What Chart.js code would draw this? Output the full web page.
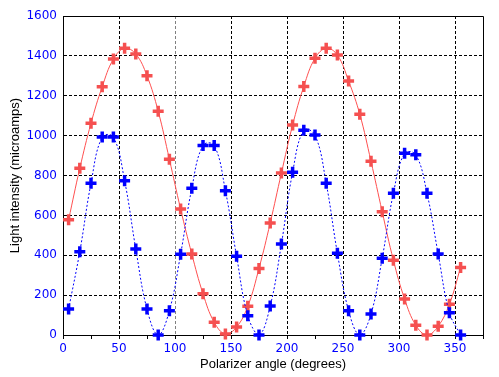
<!DOCTYPE html>
<html>
<head>
<meta charset="utf-8">
<script src="https://cdn.jsdelivr.net/npm/chart.js@4/dist/chart.umd.min.js"></script>
<style>
html,body{margin:0;padding:0;background:#fff;}
#wrap{width:499px;height:377px;}
</style>
</head>
<body>
<div id="wrap"><canvas id="c" width="499" height="377"></canvas></div>
<script>
const angles = [5,15,25,35,45,55,65,75,85,95,105,115,125,135,145,155,165,175,185,195,205,215,225,235,245,255,265,275,285,295,305,315,325,335,345,355];
const redValues = [578,836,1062,1245,1384,1438,1409,1300,1122,881,632,406,207,64,5,40,144,334,562,812,1053,1247,1388,1438,1404,1274,1107,871,618,375,181,49,0,44,154,339];
const blueValues = [130,418,761,993,993,774,431,130,0,122,405,736,951,951,724,395,97,0,145,456,816,1027,1003,761,410,122,0,105,385,711,911,904,711,406,112,0];
const xTickLabels = [0,50,100,150,200,250,300,350];
const yTickLabels = [0,200,400,600,800,1000,1200,1400,1600];
const xTitle = 'Polarizer angle (degrees)';
const yTitle = 'Light intensity (microamps)';

const toPts = (vals) => angles.map((a, i) => ({x: a, y: vals[i]}));

const frame = {
  id: 'frame',
  afterDraw(chart) {
    const a = chart.chartArea, ctx = chart.ctx;
    ctx.save();
    ctx.strokeStyle = '#000';
    ctx.lineWidth = 1;
    ctx.setLineDash([]);
    ctx.beginPath();
    ctx.moveTo(Math.round(a.left) + 0.5, Math.round(a.top) + 0.5);
    ctx.lineTo(Math.round(a.right) + 0.5, Math.round(a.top) + 0.5);
    ctx.lineTo(Math.round(a.right) + 0.5, Math.round(a.bottom) + 0.5);
    ctx.stroke();
    ctx.restore();
  }
};

new Chart(document.getElementById('c'), {
  type: 'line',
  data: {
    datasets: [
      {
        label: 'blue',
        data: toPts(blueValues),
        borderColor: '#0000ff',
        backgroundColor: '#0000ff',
        borderWidth: 1,
        borderDash: [2, 2],
        tension: 0.4,
        pointStyle: 'cross',
        pointRadius: 5.5,
        pointBorderWidth: 3.5,
        pointBorderColor: '#0000ff',
        clip: false,
        order: 0
      },
      {
        label: 'red',
        data: toPts(redValues),
        borderColor: '#ff5050',
        backgroundColor: '#ff5050',
        borderWidth: 1,
        tension: 0.4,
        pointStyle: 'cross',
        pointRadius: 5.5,
        pointBorderWidth: 3.5,
        pointBorderColor: '#f55050',
        clip: false,
        order: 1
      }
    ]
  },
  options: {
    responsive: false,
    animation: false,
    events: [],
    layout: {padding: {top: 16, right: 16, left: 0, bottom: 0}},
    plugins: {legend: {display: false}, tooltip: {enabled: false}},
    scales: {
      x: {
        type: 'linear',
        min: 0,
        max: 375,
        afterBuildTicks: (s) => {
          const t = [];
          for (let v = 0; v <= 375; v += 25) t.push({value: v});
          s.ticks = t;
        },
        afterFit: (s) => { s.height = 42; },
        ticks: {
          color: '#0000ff',
          font: {family: 'DejaVu Sans', size: 12},
          padding: 3,
          maxRotation: 0,
          autoSkip: false,
          callback: (v) => xTickLabels.includes(v) ? String(v) : ''
        },
        grid: {
          color: (ctx) => {
            const v = ctx.tick ? ctx.tick.value : -1;
            if (v === 100) return '#808080';
            return (xTickLabels.includes(v) && v !== 0) ? '#000' : 'rgba(0,0,0,0)';
          },
          tickColor: '#000',
          tickLength: 4,
          tickBorderDash: [],
          lineWidth: 1
        },
        border: {display: true, color: '#000', width: 1, dash: [3, 2]},
        title: {
          display: true,
          text: xTitle,
          color: '#000',
          font: {family: 'Liberation Sans', size: 13},
          padding: {top: 0, bottom: 5}
        }
      },
      y: {
        type: 'linear',
        min: 0,
        max: 1600,
        afterBuildTicks: (s) => { s.ticks = yTickLabels.map(v => ({value: v})); },
        afterFit: (s) => { s.width = 63; },
        ticks: {
          color: '#0000ff',
          font: {family: 'DejaVu Sans', size: 12},
          padding: 6,
          callback: (v) => String(v)
        },
        grid: {
          color: (ctx) => {
            const v = ctx.tick ? ctx.tick.value : -1;
            return (v === 0 || v === 1600) ? 'rgba(0,0,0,0)' : '#000';
          },
          drawTicks: false,
          lineWidth: 1
        },
        border: {display: true, color: '#000', width: 1, dash: [3, 2]},
        title: {
          display: true,
          text: yTitle,
          color: '#000',
          font: {family: 'Liberation Sans', size: 13},
          padding: {top: 8, bottom: 0}
        }
      }
    }
  },
  plugins: [frame]
});
</script>
</body>
</html>
